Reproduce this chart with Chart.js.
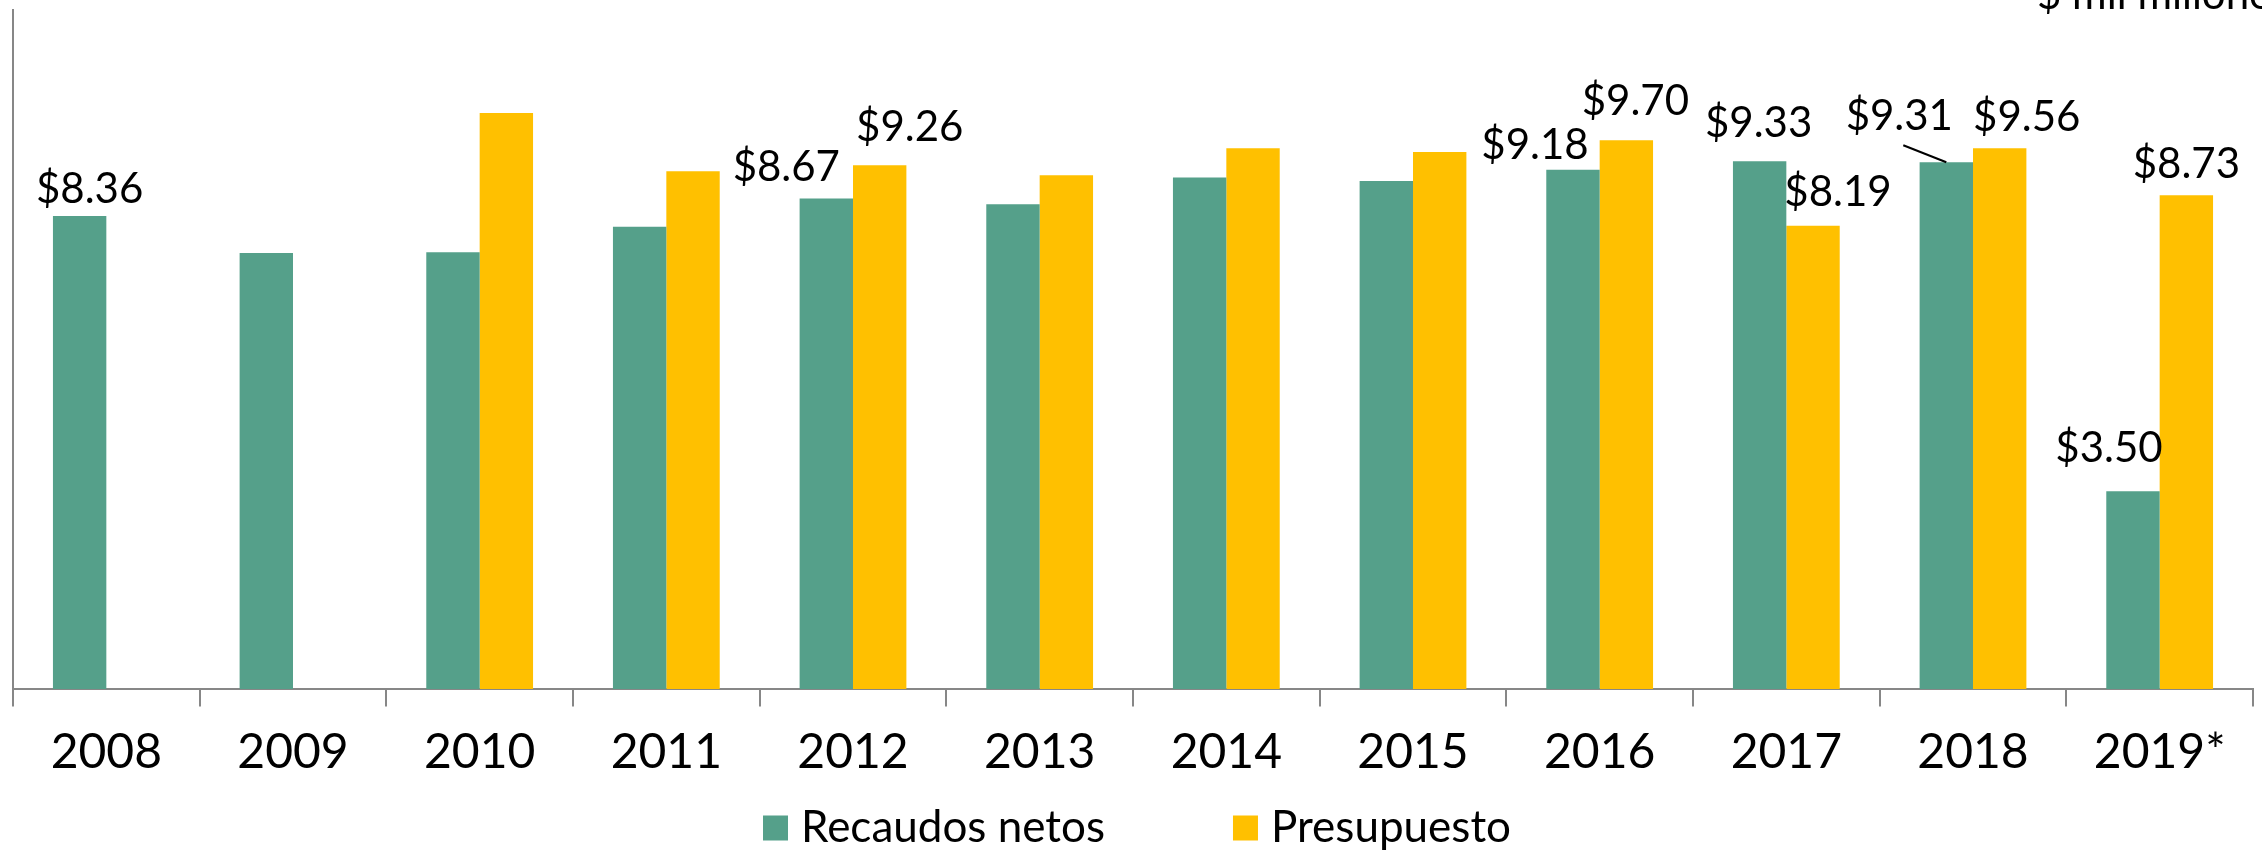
<!DOCTYPE html>
<html>
<head>
<meta charset="utf-8">
<script src="https://cdn.jsdelivr.net/npm/chart.js@4.4.1/dist/chart.umd.min.js"></script>
<style>
    html, body { margin: 0; padding: 0; background: #fff; overflow: hidden; }
    #chart-wrap { position: relative; width: 2262px; height: 852px; }
</style>
</head>
<body>
<div id="chart-wrap"><canvas id="recaudos-chart"></canvas></div>
<script>
const years = ['2008', '2009', '2010', '2011', '2012', '2013', '2014', '2015', '2016', '2017', '2018', '2019*']
const recaudos = [8.36, 7.71, 7.72, 8.17, 8.67, 8.57, 9.04, 8.98, 9.18, 9.33, 9.31, 3.50]
const presupuesto = [null, null, 10.18, 9.15, 9.26, 9.08, 9.56, 9.49, 9.70, 8.19, 9.56, 8.73]
const seriesNames = ['Recaudos netos', 'Presupuesto']
const unitText = '$ mil millones'
const yMin = 0
const yMax = 12

// where each value label sits, offset in px from the top centre of its bar (null = no label)
// third item = draw a leader line back to the bar
const recaudosLabelPos = [[10, -27], null, null, null, [-40, -31], null, null, null, [-38, -24], [-1, -38], [-47, -46, true], [-24, -43]]
const presupuestoLabelPos = [null, null, null, null, [30, -38], null, null, null, [9, -39], [25, -33], [27, -31], [0, -31]]

const green = '#55a08a'
const gold = '#ffc000'
const axisGray = '#878787'
const fontFamily = 'Lato'

Chart.defaults.font.family = fontFamily
Chart.defaults.color = '#000'

const barLabels = {
    id: 'barLabels',
    afterDatasetsDraw(chart) {
        const ctx = chart.ctx
        ctx.save()
        ctx.font = '42px ' + fontFamily
        ctx.fillStyle = '#000'
        ctx.strokeStyle = '#000'
        ctx.lineWidth = 2
        ctx.textAlign = 'center'
        ctx.textBaseline = 'middle'
        chart.data.datasets.forEach((ds, d) => {
            const meta = chart.getDatasetMeta(d)
            meta.data.forEach((bar, i) => {
                const pos = ds.labelPos[i]
                if (!pos || ds.data[i] == null) return
                const x = bar.x + pos[0]
                const y = bar.y + pos[1]
                ctx.fillText('$' + ds.data[i].toFixed(2), x, y)
                if (pos[2]) {
                    ctx.beginPath()
                    ctx.moveTo(x + 4, y + 29)
                    ctx.lineTo(bar.x, bar.y)
                    ctx.stroke()
                }
            })
        })
        ctx.restore()
    }
}

const bottomLegend = {
    id: 'bottomLegend',
    afterDraw(chart, args, opts) {
        const ctx = chart.ctx
        ctx.save()
        ctx.font = opts.size + 'px ' + fontFamily
        ctx.textBaseline = 'middle'
        ctx.textAlign = 'left'
        const items = chart.data.datasets.map(ds => ({
            text: ds.label,
            color: ds.backgroundColor,
            w: ctx.measureText(ds.label).width
        }))
        let total = opts.itemGap * (items.length - 1)
        items.forEach(it => { total += opts.box + opts.boxGap + it.w })
        let x = (chart.chartArea.left + chart.chartArea.right) / 2 - total / 2 + opts.shift
        const y = chart.height - opts.fromBottom
        items.forEach(it => {
            ctx.fillStyle = it.color
            ctx.fillRect(x, y - opts.box / 2, opts.box, opts.box)
            x += opts.box + opts.boxGap
            ctx.fillStyle = '#000'
            ctx.fillText(it.text, x, y)
            x += it.w + opts.itemGap
        })
        ctx.restore()
    }
}

const unitLabel = {
    id: 'unitLabel',
    afterDraw(chart) {
        const ctx = chart.ctx
        ctx.save()
        ctx.font = '42px ' + fontFamily
        ctx.fillStyle = '#000'
        ctx.textAlign = 'left'
        ctx.textBaseline = 'alphabetic'
        ctx.fillText(unitText, chart.chartArea.right - 216, 9)
        ctx.restore()
    }
}

function initChart() {
    const ctx = document.getElementById('recaudos-chart')
    const data = {
        labels: years,
        datasets: [{
            label: seriesNames[0],
            data: recaudos,
            backgroundColor: green,
            labelPos: recaudosLabelPos,
            categoryPercentage: 0.572,
            barPercentage: 1.0
        }, {
            label: seriesNames[1],
            data: presupuesto,
            backgroundColor: gold,
            labelPos: presupuestoLabelPos,
            categoryPercentage: 0.572,
            barPercentage: 1.0
        }]
    }
    const config = {
        type: 'bar',
        data: data,
        plugins: [barLabels, bottomLegend, unitLabel],
        options: {
            responsive: true,
            maintainAspectRatio: false,
            animation: false,
            layout: {
                padding: { left: 13, right: 9, top: 10, bottom: 54 }
            },
            plugins: {
                legend: { display: false },
                tooltip: { enabled: false },
                bottomLegend: { size: 44, box: 25, boxGap: 13, itemGap: 128, shift: 4, fromBottom: 24 }
            },
            scales: {
                x: {
                    grid: {
                        display: true,
                        offset: true,
                        drawOnChartArea: false,
                        drawTicks: true,
                        tickLength: 17,
                        color: axisGray,
                        lineWidth: 2
                    },
                    border: { display: true, color: axisGray, width: 2 },
                    ticks: {
                        padding: 17,
                        font: { size: 48 },
                        color: '#000',
                        maxRotation: 0,
                        autoSkip: false
                    }
                },
                y: {
                    min: yMin,
                    max: yMax,
                    grid: { display: true, drawOnChartArea: false, drawTicks: false },
                    border: { display: true, color: axisGray, width: 2 },
                    ticks: { display: false }
                }
            }
        }
    }
    new Chart(ctx, config)
}

document.fonts.load('42px ' + fontFamily).then(initChart, initChart)
</script>
</body>
</html>
